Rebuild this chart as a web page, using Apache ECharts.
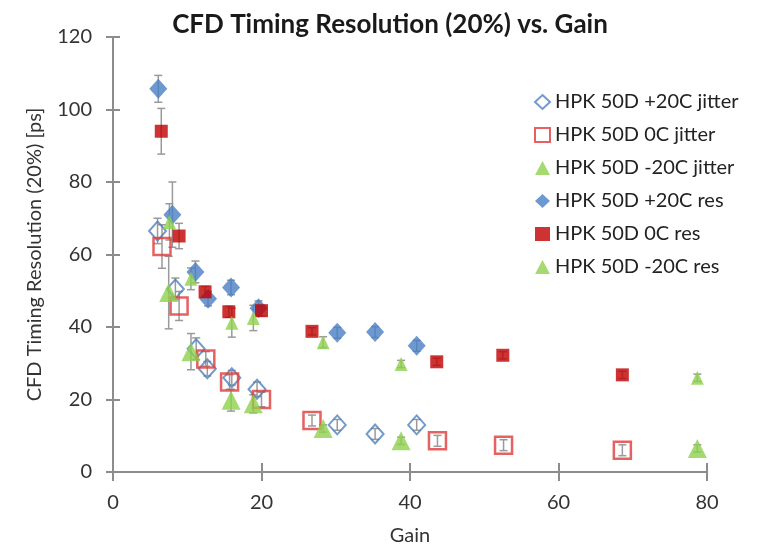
<!DOCTYPE html>
<html><head><meta charset="utf-8">
<script src="https://cdn.jsdelivr.net/npm/echarts@6/dist/echarts.min.js"></script>
<style>html,body{margin:0;padding:0;background:#fff}#c{width:758px;height:551px}</style>
</head><body><div id="c"></div>
<script>
// Data: [gain, value, error]
const blueJitter = [[6.0,66.5,3.5],[8.4,50.5,3],[11.2,34,3],[12.7,28.5,2],[16.0,26,2],[19.4,22.8,2],[30.2,13,1.5],[35.3,10.5,1.5],[40.9,13,1.5]];
const redJitter = [[6.6,62.2,6],[8.9,45.8,4],[12.5,31.2,2],[15.7,24.8,2],[20.0,20,2],[26.8,14.2,1.5],[43.7,8.6,1.5],[52.6,7.4,1.5],[68.6,6,1.5]];
const greenJitter = [[7.5,49.5,10],[10.5,33.2,5],[15.9,19.8,3],[18.9,18.8,2.5],[28.3,12,1],[38.8,8.6,1],[78.7,6.5,1]];
const blueRes = [[6.1,105.7,3.7],[8.0,71,9],[11.1,55.2,3],[12.8,47.8,2],[15.9,50.9,2],[19.6,45.2,2],[30.2,38.4,1.5],[35.3,38.6,1.5],[40.9,34.8,1.5]];
const redRes = [[6.5,94,6.3],[8.9,65.1,3.5],[12.4,49.7,1.5],[15.6,44.2,1.5],[20.0,44.5,1.5],[26.8,38.8,1],[43.6,30.4,1],[52.5,32.2,1],[68.6,26.8,1]];
const greenRes = [[7.6,69,5],[10.5,53.3,3],[16.0,41.2,4],[18.9,42.5,3.5],[28.3,35.8,1.5],[38.8,29.8,1],[78.7,26,1]];
const names = ['HPK 50D +20C jitter','HPK 50D 0C jitter','HPK 50D -20C jitter','HPK 50D +20C res','HPK 50D 0C res','HPK 50D -20C res'];
const xTicks = [0,80,20];
const yTicks = [0,120,20];

const FONT = 'Lato';
const chart = echarts.init(document.getElementById('c'), null, {renderer:'canvas'});

function errSeries(data){
  return {
    type:'custom', silent:true, z:1,
    data: data.map(d=>[d[0], d[1]-d[2], d[1]+d[2]]),
    renderItem:function(params, api){
      const lo = api.coord([api.value(0), api.value(1)]);
      const hi = api.coord([api.value(0), api.value(2)]);
      const w = 4;
      const st = {stroke:'#9a9a9a', lineWidth:1.5};
      return {type:'group', children:[
        {type:'line', shape:{x1:lo[0],y1:lo[1],x2:hi[0],y2:hi[1]}, style:st},
        {type:'line', shape:{x1:lo[0]-w,y1:lo[1],x2:lo[0]+w,y2:lo[1]}, style:st},
        {type:'line', shape:{x1:hi[0]-w,y1:hi[1],x2:hi[0]+w,y2:hi[1]}, style:st}
      ]};
    }
  };
}
function pts(d){ return d.map(p=>[p[0],p[1]]); }

const axisLine = {show:true, lineStyle:{color:'#8c8c8c', width:2}};
const option = {
  animation:false,
  backgroundColor:'#fff',
  title:{text:'CFD Timing Resolution (20%) vs. Gain', left:385, top:7, textAlign:'center',
    textStyle:{fontFamily:FONT, fontWeight:'bold', fontSize:26, color:'#1a1a1a'}},
  legend:{orient:'vertical', left:529, top:87, itemGap:13, itemWidth:15, itemHeight:14,
    data:names, textStyle:{fontFamily:FONT, fontSize:20, lineHeight:20, color:'#222'}},
  grid:{left:113, right:51, top:37, bottom:73},
  xAxis:[
    {type:'value', min:xTicks[0], max:xTicks[1], interval:xTicks[2], name:'Gain', nameLocation:'middle', nameGap:54,
     nameTextStyle:{fontFamily:FONT, fontSize:20, color:'#333'},
     axisLine:axisLine, axisTick:{show:true, length:9, lineStyle:{color:'#8c8c8c', width:2}},
     axisLabel:{fontFamily:FONT, fontSize:20, color:'#333', margin:21}, splitLine:{show:false}},
    {type:'value', min:xTicks[0], max:xTicks[1], interval:xTicks[2], position:'bottom',
     axisLine:{show:false}, axisTick:{show:true, inside:true, length:9, lineStyle:{color:'#8c8c8c', width:2}},
     axisLabel:{show:false}, splitLine:{show:false}}
  ],
  yAxis:[
    {type:'value', min:yTicks[0], max:yTicks[1], interval:yTicks[2], name:'CFD Timing Resolution (20%) [ps]',
     nameLocation:'middle', nameGap:68, nameTextStyle:{fontFamily:FONT, fontSize:20, color:'#333'},
     axisLine:axisLine, axisTick:{show:true, length:7, lineStyle:{color:'#8c8c8c', width:2}},
     axisLabel:{fontFamily:FONT, fontSize:20, color:'#333', margin:21}, splitLine:{show:false}},
    {type:'value', min:yTicks[0], max:yTicks[1], interval:yTicks[2], position:'left',
     axisLine:{show:false}, axisTick:{show:true, inside:true, length:7, lineStyle:{color:'#8c8c8c', width:2}},
     axisLabel:{show:false}, splitLine:{show:false}}
  ],
  series:[
    errSeries(blueJitter), errSeries(redJitter), errSeries(greenJitter),
    errSeries(blueRes), errSeries(redRes), errSeries(greenRes),
    {name:names[0], type:'scatter', z:3, data:pts(blueJitter), symbol:'diamond', symbolSize:[17,19],
     itemStyle:{color:'rgba(255,255,255,0)', borderColor:'#4f81bd', borderWidth:2}},
    {name:names[1], type:'scatter', z:3, data:pts(redJitter), symbol:'rect', symbolSize:17,
     itemStyle:{color:'rgba(255,255,255,0)', borderColor:'#e03a3a', borderWidth:2.5}},
    {name:names[2], type:'scatter', z:3, data:pts(greenJitter), symbol:'triangle', symbolSize:[19,19],
     itemStyle:{color:'#8ed14e'}},
    {name:names[3], type:'scatter', z:4, data:pts(blueRes), symbol:'diamond', symbolSize:[18,20],
     itemStyle:{color:'#4a7ec4'}},
    {name:names[4], type:'scatter', z:4, data:pts(redRes), symbol:'rect', symbolSize:13,
     itemStyle:{color:'#c00000'}},
    {name:names[5], type:'scatter', z:4, data:pts(greenRes), symbol:'triangle', symbolSize:[13,14],
     itemStyle:{color:'#8ed14e'}}
  ]
};
chart.setOption(option);
</script></body></html>
